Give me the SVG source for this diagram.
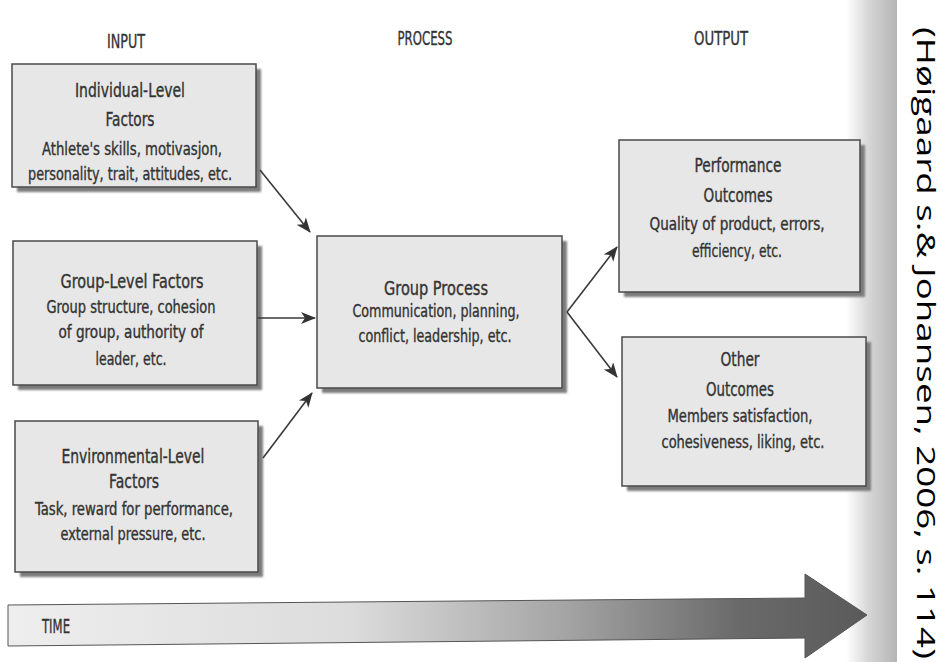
<svg xmlns="http://www.w3.org/2000/svg" width="944" height="662" viewBox="0 0 944 662">
<style>
  .box { fill: #e7e7e7; stroke: #4a4a4a; stroke-width: 1.5; }
  .shadow { fill: #7c7c7c; filter: url(#blur); }
  text { font-family: "DejaVu Sans Condensed", "Liberation Sans Narrow", "DejaVu Sans", sans-serif; fill: #333333; stroke: #333333; stroke-width: 0.35; text-anchor: middle; }
  .t { font-size: 19px; }
  .b { font-size: 17px; }
  .h { font-size: 19px; }
  .conn { stroke: #3a3a3a; stroke-width: 1.6; fill: none; marker-end: url(#ah); }
  .cite { font-family: "Open Sans", "Noto Sans", "DejaVu Sans", sans-serif; font-size: 26px; fill: #000; stroke: none; text-anchor: start; }
</style>
<defs>
  <filter id="blur" x="-10%" y="-10%" width="120%" height="120%"><feGaussianBlur stdDeviation="1"/></filter>
  <marker id="ah" markerUnits="userSpaceOnUse" markerWidth="16" markerHeight="14" refX="14" refY="6" orient="auto">
    <path d="M0,0 L15,6 L0,12 L4,6 z" fill="#333"/>
  </marker>
  <linearGradient id="strip" x1="0" y1="0" x2="1" y2="0">
    <stop offset="0" stop-color="#ffffff"/>
    <stop offset="0.45" stop-color="#d6d6d6"/>
    <stop offset="1" stop-color="#b4b4b4"/>
  </linearGradient>
  <linearGradient id="timeg" gradientUnits="userSpaceOnUse" x1="8" y1="0" x2="867" y2="0">
    <stop offset="0" stop-color="#eeeeee"/>
    <stop offset="0.4" stop-color="#dcdcdc"/>
    <stop offset="0.65" stop-color="#a4a4a4"/>
    <stop offset="0.85" stop-color="#6a6a6a"/>
    <stop offset="1" stop-color="#5a5a5a"/>
  </linearGradient>
</defs>

<rect x="0" y="0" width="944" height="662" fill="#ffffff"/>
<rect x="846" y="0" width="51" height="662" fill="url(#strip)"/>

<g id="headers">
  <text class="h" x="126" y="48" textLength="38" lengthAdjust="spacingAndGlyphs">INPUT</text>
  <text class="h" x="425" y="45" textLength="55" lengthAdjust="spacingAndGlyphs">PROCESS</text>
  <text class="h" x="721" y="45" textLength="54" lengthAdjust="spacingAndGlyphs">OUTPUT</text>
</g>

<g id="individual">
  <rect class="shadow" x="17" y="69" width="244" height="123"/>
  <rect class="box" x="12" y="64" width="244" height="123"/>
  <text class="t" x="130" y="97" textLength="110" lengthAdjust="spacingAndGlyphs">Individual-Level</text>
  <text class="t" x="130" y="126" textLength="49" lengthAdjust="spacingAndGlyphs">Factors</text>
  <text class="b" x="132" y="155" textLength="180" lengthAdjust="spacingAndGlyphs">Athlete's skills, motivasjon,</text>
  <text class="b" x="130" y="180" textLength="204" lengthAdjust="spacingAndGlyphs">personality, trait, attitudes, etc.</text>
</g>

<g id="group-level">
  <rect class="shadow" x="18" y="246" width="244" height="144"/>
  <rect class="box" x="13" y="241" width="244" height="144"/>
  <text class="t" x="132" y="288" textLength="143" lengthAdjust="spacingAndGlyphs">Group-Level Factors</text>
  <text class="b" x="131" y="313" textLength="169" lengthAdjust="spacingAndGlyphs">Group structure, cohesion</text>
  <text class="b" x="131" y="338" textLength="145" lengthAdjust="spacingAndGlyphs">of group, authority of</text>
  <text class="b" x="131" y="365" textLength="71" lengthAdjust="spacingAndGlyphs">leader, etc.</text>
</g>

<g id="environmental">
  <rect class="shadow" x="20" y="426" width="243" height="151"/>
  <rect class="box" x="15" y="421" width="243" height="151"/>
  <text class="t" x="133" y="463" textLength="143" lengthAdjust="spacingAndGlyphs">Environmental-Level</text>
  <text class="t" x="134" y="488" textLength="50" lengthAdjust="spacingAndGlyphs">Factors</text>
  <text class="b" x="134" y="515" textLength="198" lengthAdjust="spacingAndGlyphs">Task, reward for performance,</text>
  <text class="b" x="133" y="540" textLength="145" lengthAdjust="spacingAndGlyphs">external pressure, etc.</text>
</g>

<g id="process">
  <rect class="shadow" x="322" y="241" width="245" height="152"/>
  <rect class="box" x="317" y="236" width="245" height="152"/>
  <text class="t" x="436" y="295" textLength="104" lengthAdjust="spacingAndGlyphs">Group Process</text>
  <text class="b" x="436" y="317" textLength="167" lengthAdjust="spacingAndGlyphs">Communication, planning,</text>
  <text class="b" x="435" y="342" textLength="153" lengthAdjust="spacingAndGlyphs">conflict, leadership, etc.</text>
</g>

<g id="performance">
  <rect class="shadow" x="624" y="145" width="241" height="152"/>
  <rect class="box" x="619" y="140" width="241" height="152"/>
  <text class="t" x="738" y="172" textLength="87" lengthAdjust="spacingAndGlyphs">Performance</text>
  <text class="t" x="738" y="202" textLength="69" lengthAdjust="spacingAndGlyphs">Outcomes</text>
  <text class="b" x="737" y="230" textLength="175" lengthAdjust="spacingAndGlyphs">Quality of product, errors,</text>
  <text class="b" x="737" y="257" textLength="90" lengthAdjust="spacingAndGlyphs">efficiency, etc.</text>
</g>

<g id="other">
  <rect class="shadow" x="627" y="342" width="244" height="149"/>
  <rect class="box" x="622" y="337" width="244" height="149"/>
  <text class="t" x="740" y="366" textLength="39" lengthAdjust="spacingAndGlyphs">Other</text>
  <text class="t" x="740" y="396" textLength="68" lengthAdjust="spacingAndGlyphs">Outcomes</text>
  <text class="b" x="740" y="422" textLength="145" lengthAdjust="spacingAndGlyphs">Members satisfaction,</text>
  <text class="b" x="743" y="448" textLength="163" lengthAdjust="spacingAndGlyphs">cohesiveness, liking, etc.</text>
</g>

<g id="connectors">
  <line class="conn" x1="260" y1="170" x2="310" y2="232"/>
  <line class="conn" x1="258" y1="318" x2="315" y2="318"/>
  <line class="conn" x1="263" y1="458" x2="312" y2="393"/>
  <line class="conn" x1="567" y1="312" x2="617" y2="247"/>
  <line class="conn" x1="567" y1="312" x2="617" y2="377"/>
</g>

<g id="time">
  <polygon points="8,605 805,598 805,574 867,615 805,658 805,638 8,646" fill="url(#timeg)" stroke="#555" stroke-width="1"/>
  <text class="h" x="56" y="633" textLength="28" lengthAdjust="spacingAndGlyphs">TIME</text>
</g>

<g id="citation">
  <text class="cite" transform="translate(917,27) rotate(90)" textLength="632" lengthAdjust="spacingAndGlyphs">(Høigaard s.&amp; Johansen, 2006, s. 114)</text>
</g>
</svg>
